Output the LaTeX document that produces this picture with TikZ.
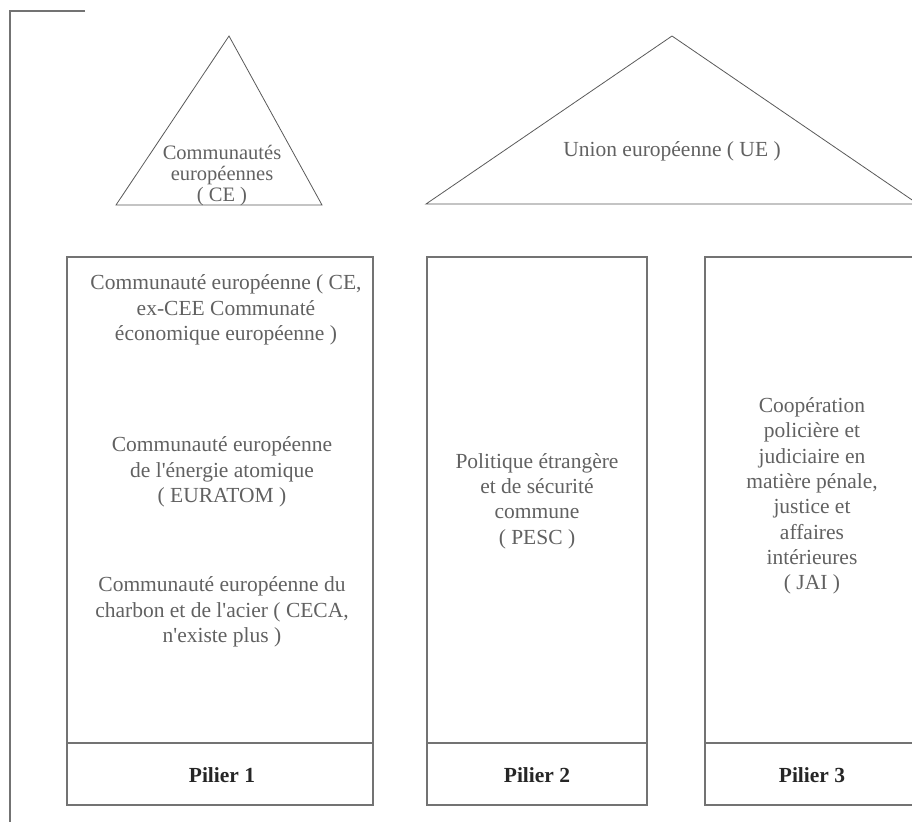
\documentclass[tikz,border=0pt]{standalone}
\usepackage{fontspec}
\setmainfont{Liberation Serif}
\newcommand{\apo}{\textquotesingle}
\begin{document}
\begin{tikzpicture}[x=1pt,y=-1pt,
  frame/.style={draw=black!55,line width=1.2pt},
  tri/.style={draw=black!65,line width=0.8pt},
  txt/.style={text=black!62,font=\fontsize{21.5}{25.3}\selectfont,align=center,inner sep=0pt},
  pil/.style={text=black!85,font=\fontsize{21.5}{25}\selectfont\bfseries,inner sep=0pt},
  col/.style={draw=black!55,line width=1.2pt,inner sep=0pt}]
\useasboundingbox (0,0) rectangle (912,822);
\clip (0,0) rectangle (912,822);
% corner frame
\coordinate (fa) at (85,11);
\coordinate (fb) at (10,11);
\coordinate (fc) at (10,822);
\draw[frame] (fa) -- (fb) -- (fc);
% triangles
\coordinate (t1a) at (229,36);
\coordinate (t1l) at (116,205);
\coordinate (t1r) at (322,205);
\draw[tri] (t1a) -- (t1l) -- (t1r) -- cycle;
\node[txt,font=\fontsize{20.5}{21}\selectfont] (ce) at (222,176) {Communautés\\européennes\\( CE )};
\coordinate (t2a) at (672,36);
\coordinate (t2l) at (426,204);
\coordinate (t2r) at (918,204);
\draw[tri] (t2a) -- (t2l) -- (t2r) -- cycle;
\node[txt] (ue) at (672,151) {Union européenne ( UE )};
% pillars
\draw[col] (67,257) rectangle (373,805);
\draw[col] (67,743) -- (373,743);
\draw[col] (427,257) rectangle (647,805);
\draw[col] (427,743) -- (647,743);
\draw[col] (705,257) rectangle (920,805);
\draw[col] (705,743) -- (920,743);
% texts
\node[txt] (p1a) at (226,310) {Communauté européenne ( CE,\\ex-CEE Communaté\\économique européenne )};
\node[txt] (p1b) at (222,472) {Communauté européenne\\de l\apo énergie atomique\\( EURATOM )};
\node[txt] (p1c) at (222,612) {Communauté européenne du\\charbon et de l\apo acier ( CECA,\\n\apo existe plus )};
\node[txt] (p2) at (537,501) {Politique étrangère\\et de sécurité\\commune\\( PESC )};
\node[txt] (p3) at (812,496) {Coopération\\policière et\\judiciaire en\\matière pénale,\\justice et\\affaires\\intérieures\\( JAI )};
\node[pil] (l1) at (222,775) {Pilier 1};
\node[pil] (l2) at (537,775) {Pilier 2};
\node[pil] (l3) at (812,775) {Pilier 3};
\end{tikzpicture}
\end{document}
